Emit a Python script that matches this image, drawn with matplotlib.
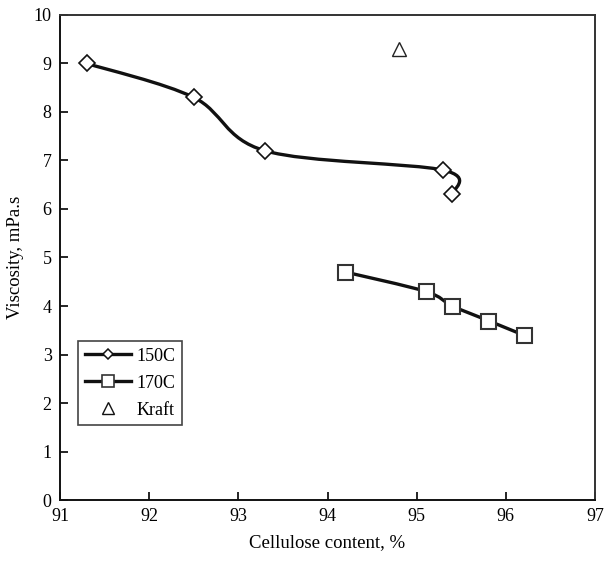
import matplotlib
matplotlib.use("Agg")
import matplotlib.pyplot as plt
from matplotlib.path import Path
from matplotlib.patches import PathPatch
from matplotlib.lines import Line2D
import numpy as np

plt.rcParams['font.family'] = ['Liberation Serif', 'DejaVu Serif']

cell_150 = [91.3, 92.5, 93.3, 95.3, 95.4]
visc_150 = [9.0, 8.3, 7.2, 6.8, 6.3]
cell_170 = [94.2, 95.1, 95.4, 95.8, 96.2]
visc_170 = [4.7, 4.3, 4.0, 3.7, 3.4]
cell_kraft = [94.8]
visc_kraft = [9.3]


def smooth_path(x, y):
    # Catmull-Rom style bezier, like spreadsheet "smoothed line"
    p = np.column_stack([x, y])
    verts = [p[0]]
    codes = [Path.MOVETO]
    n = len(p)
    for i in range(n - 1):
        p0 = p[i - 1] if i > 0 else p[i]
        p3 = p[i + 2] if i + 2 < n else p[i + 1]
        c1 = p[i] + (p[i + 1] - p0) / 6
        c2 = p[i + 1] - (p3 - p[i]) / 6
        verts += [c1, c2, p[i + 1]]
        codes += [Path.CURVE4] * 3
    return Path(verts, codes)


fig = plt.figure(figsize=(6.05, 5.61), dpi=100)
ax = fig.add_axes([0.0992, 0.1087, 0.8843, 0.8646])

for xs, ys in [(cell_150, visc_150), (cell_170, visc_170)]:
    ax.add_patch(PathPatch(smooth_path(xs, ys), facecolor='none',
                           edgecolor='#111111', lw=2.4, zorder=2))

ax.plot(cell_150, visc_150, ls='none', marker='D', ms=8.2, mfc='white',
        mec='#111111', mew=1.2, zorder=3)
ax.plot(cell_170, visc_170, ls='none', marker='s', ms=10.8, mfc='white',
        mec='#333333', mew=1.5, zorder=3)
ax.plot(cell_kraft, visc_kraft, ls='none', marker='^', ms=10.5, mfc='white',
        mec='#222222', mew=1.0, zorder=3)

handles = [
    Line2D([], [], color='#111111', lw=2.4, marker='D', ms=5.6, mfc='white',
           mec='#111111', mew=1.1),
    Line2D([], [], color='#111111', lw=2.4, marker='s', ms=8.4, mfc='white',
           mec='#333333', mew=1.2),
    Line2D([], [], ls='none', marker='^', ms=8, mfc='white',
           mec='#111111', mew=1.0),
]
leg = ax.legend(handles, ['150C', '170C', 'Kraft'], loc='lower left',
                bbox_to_anchor=(0.034, 0.155), borderaxespad=0,
                fontsize=13, fancybox=False, framealpha=1,
                edgecolor='#444444', handlelength=2.6, handletextpad=0.3,
                borderpad=0.35, labelspacing=0.55)
leg.get_frame().set_linewidth(1.2)

ax.set_xlim(91, 97)
ax.set_ylim(0, 10)
ax.set_xticks(range(91, 98))
ax.set_yticks(range(0, 11))
for side in ['top', 'right', 'left', 'bottom']:
    ax.spines[side].set_linewidth(1.4)
    ax.spines[side].set_color('#333333')
ax.spines['left'].set_color('#111111')
ax.spines['bottom'].set_color('#111111')
ax.tick_params(direction='in', length=6, width=1.2, labelsize=13, pad=6)
ax.set_xlabel('Cellulose content, %', fontsize=13.5, labelpad=6)
ax.set_ylabel('Viscosity, mPa.s', fontsize=13.5, labelpad=7)

fig.savefig('out.png', dpi=100)
